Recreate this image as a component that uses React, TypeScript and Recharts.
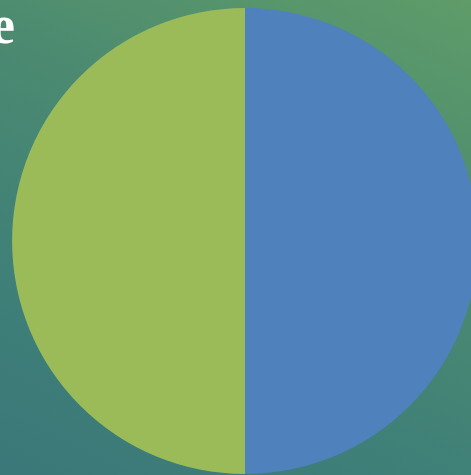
import React from "react";
import { PieChart, Pie, Cell } from "recharts";

const labels = ["Series A", "Series B"];
const values = [50, 50];
const colors = ["#4f81bd", "#9bbb59"];
const titleText = "e";

const data = labels.map((name, i) => ({ name, value: values[i] }));

export default function App() {
  return (
    <div
      style={{
        position: "absolute",
        left: 0,
        top: 0,
        width: 471,
        height: 475,
        overflow: "hidden",
        background:
          "linear-gradient(205deg, #5f9c69 0%, #4c8b70 35%, #3f8078 70%, #3a7879 100%)",
      }}
    >
      <PieChart width={471} height={475} margin={{ top: 0, right: 0, bottom: 0, left: 0 }}>
        <Pie
          data={data}
          dataKey="value"
          nameKey="name"
          cx={245}
          cy={241}
          outerRadius={233}
          innerRadius={0}
          startAngle={90}
          endAngle={-270}
          stroke="none"
          isAnimationActive={false}
        >
          {data.map((d, i) => (
            <Cell key={d.name} fill={colors[i]} />
          ))}
        </Pie>
        <text
          x={15}
          y={43}
          textAnchor="end"
          fill="#ffffff"
          fontFamily="'Liberation Serif', serif"
          fontSize={54}
          fontWeight="bold"
        >
          {titleText}
        </text>
      </PieChart>
    </div>
  );
}
